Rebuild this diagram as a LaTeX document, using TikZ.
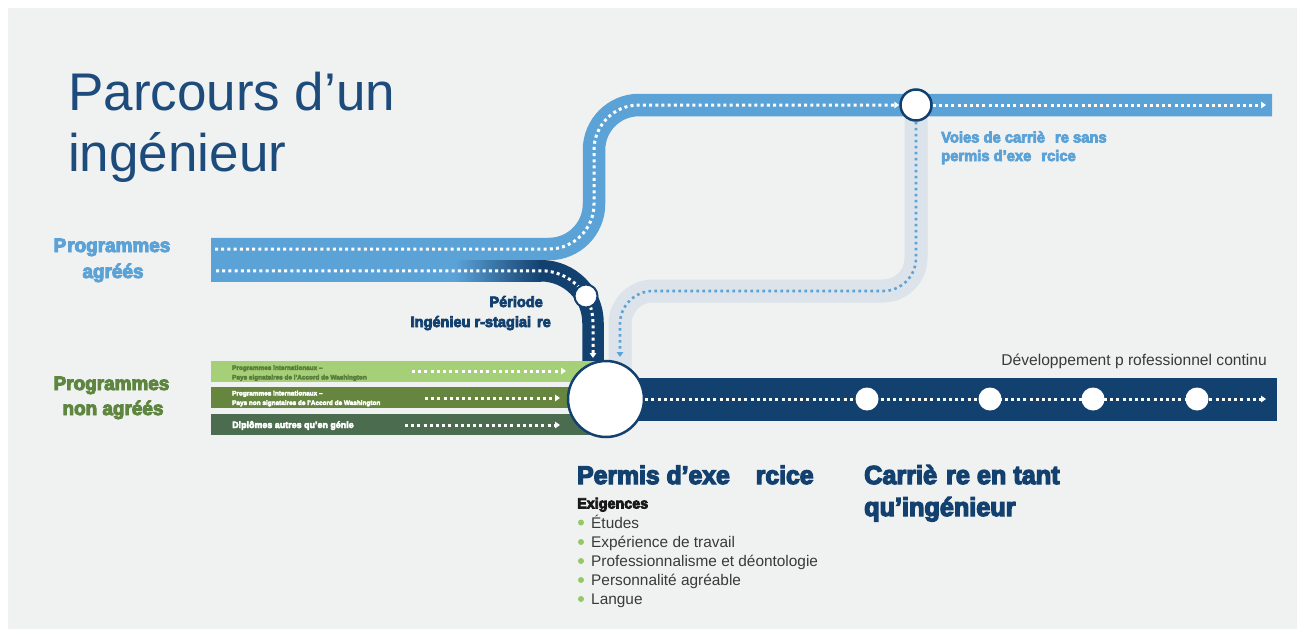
\documentclass[tikz,border=0pt]{standalone}
\usepackage{fontspec}
\setmainfont{Liberation Sans}
\newfontfamily\heavy[FakeStretch=0.97,BoldFeatures={FakeBold=5}]{Liberation Sans}
\newcommand\hv{\heavy\bfseries}
\usetikzlibrary{arrows.meta}

\definecolor{panel}{HTML}{F0F1F1}
\definecolor{navy}{HTML}{13416F}
\definecolor{titleblue}{HTML}{1D4B7B}
\definecolor{skyblue}{HTML}{5BA2D7}
\definecolor{paleband}{HTML}{DCE3EA}
\definecolor{greenA}{HTML}{A5D077}
\definecolor{greenB}{HTML}{668640}
\definecolor{greenC}{HTML}{4C6C4F}
\definecolor{greenlabel}{HTML}{5E8640}
\definecolor{greenink}{HTML}{5B7C3C}
\definecolor{bulletgreen}{HTML}{95C865}
\definecolor{bodytext}{HTML}{3A3A3A}

\tikzset{
  dots/.style={line width=3pt, dash pattern=on 3pt off 3.2pt},
  tipw/.style={-{Triangle[width=6.5pt,length=5pt]}},
  stop/.style={circle, draw=navy, fill=white, inner sep=0pt},
  milestone/.style={circle, fill=white, inner sep=0pt, minimum size=23pt},
  txt/.style={inner sep=0pt},
}

\begin{document}
\begin{tikzpicture}[x=1pt,y=-1pt]
\useasboundingbox (0,0) rectangle (1305,637);
\fill[white] (0,0) rectangle (1305,637);
\fill[panel] (8,8) rectangle (1297,629);

% named points of the routes
\coordinate (accA) at (211,249);
\coordinate (accAturn) at (594,249);
\coordinate (accAtop) at (594,105);
\coordinate (accAend) at (1272,105);
\coordinate (stageTurn) at (593,270.75);
\coordinate (altTurnA) at (916,291);
\coordinate (altTurnB) at (620,291);
\coordinate (devEnd) at (1266,399);

% pale route: careers without a licence, back to the licence
\draw[paleband, line width=23pt, rounded corners=33pt]
  (916,110) -- (altTurnA) -- (altTurnB) -- (620,385);

% accredited programmes: upper lane to careers without licence
\draw[skyblue, line width=22.5pt, rounded corners=45pt]
  (accA) -- (accAturn) -- (accAtop) -- (accAend);

% accredited programmes: lower lane, engineer-in-training period
\fill[skyblue] (211,260) rectangle (456,281.5);
\shade[left color=skyblue, right color=navy] (455,260) rectangle (541,281.5);
\draw[navy, line width=21.5pt, rounded corners=52pt]
  (540,270.75) -- (stageTurn) -- (593,385);

% non-accredited programmes
\fill[greenA] (211,361) rectangle (600,382);
\fill[greenB] (211,387) rectangle (600,408);
\fill[greenC] (211,414) rectangle (600,435);

% engineering career line
\fill[navy] (600,378) rectangle (1277,421);

% stops
\node[stop, line width=2.5pt, minimum size=76pt] (permit) at (606,399) {};
\node[stop, line width=2.5pt, minimum size=31pt] (topstop) at (916,105) {};

% dotted lanes
\draw[white, dots, tipw, rounded corners=45pt]
  (215,249) -- (accAturn) -- (accAtop) -- (topstop.west);
\draw[white, dots, tipw] (topstop.east) -- (1266,105);
\draw[white, dots, tipw, rounded corners=52pt]
  (216,270.75) -- (stageTurn) -- (593,358);
\draw[skyblue, line width=2.6pt, dash pattern=on 2.6pt off 3.4pt, tipw, rounded corners=33pt]
  (topstop.south) -- (altTurnA) -- (altTurnB) -- (620,357);
\draw[white, dots, tipw] (412,371) -- (566,371);
\draw[white, dots, tipw] (425,398) -- (560,398);
\draw[white, dots, tipw] (405,425) -- (560,425);
\draw[white, dots, tipw] (permit.east) -- (devEnd);

\node[stop, line width=2pt, minimum size=23pt] (junction) at (586,296) {};
\node[milestone] (m1) at (867,399) {};
\node[milestone] (m2) at (990,399) {};
\node[milestone] (m3) at (1093,399) {};
\node[milestone] (m4) at (1197,399) {};

% title
\node[txt, anchor=base west, text=titleblue, font=\fontsize{53}{60}\selectfont] (title1) at (68,110) {Parcours d’un};
\node[txt, anchor=base west, text=titleblue, font=\fontsize{53}{60}\selectfont] (title2) at (68,171) {ingénieur};

% left labels
\node[txt, anchor=base, text=skyblue, font=\hv\fontsize{19.5}{22}\selectfont] (acc1) at (112,252) {P\hspace{1pt}rogrammes};
\node[txt, anchor=base, text=skyblue, font=\hv\fontsize{19.5}{22}\selectfont] (acc2) at (113,278) {agréés};
\node[txt, anchor=base, text=greenlabel, font=\hv\fontsize{19.5}{22}\selectfont] (nacc1) at (111.5,390) {Programmes};
\node[txt, anchor=base, text=greenlabel, font=\hv\fontsize{19.5}{22}\selectfont] (nacc2) at (113,415) {non agréés};

% texts inside the green bands
\node[txt, anchor=base west, text=greenink, font=\hv\fontsize{6.6}{8}\selectfont] (gA1) at (232,370) {Programmes internationaux –};
\node[txt, anchor=base west, text=greenink, font=\hv\fontsize{6.6}{8}\selectfont] (gA2) at (232,379.5) {Pays signataires de l’Accord de Washington};
\node[txt, anchor=base west, text=white, font=\hv\fontsize{6.6}{8}\selectfont] (gB1) at (232,395.5) {Programmes internationaux –};
\node[txt, anchor=base west, text=white, font=\hv\fontsize{6.6}{8}\selectfont] (gB2) at (232,405) {Pays non signataires de l’Accord de Washington};
\node[txt, anchor=base west, text=white, font=\hv\fontsize{9.2}{11}\selectfont] (gC) at (232,428) {Diplômes autres qu’en génie};

% training period
\node[txt, anchor=base east, text=navy, font=\hv\fontsize{15}{18}\selectfont] (eit1) at (543,307) {Période};
\node[txt, anchor=base east, text=navy, font=\hv\fontsize{15}{18}\selectfont] (eit2) at (551,327) {Ingénieu\hspace{4pt}r-stagiai\hspace{6pt}re};

% careers without licence
\node[txt, anchor=base west, text=skyblue, font=\hv\fontsize{15.2}{18}\selectfont] (alt1) at (941,142.5) {Voies de carriè\hspace{10pt}re sans};
\node[txt, anchor=base west, text=skyblue, font=\hv\fontsize{15.2}{18}\selectfont] (alt2) at (941,161) {permis d’exe\hspace{10pt}rcice};

% continuing development
\node[txt, anchor=base east, text=bodytext, font=\fontsize{15.6}{18}\selectfont] (cpd) at (1267,365) {Développement p rofessionnel continu};

% licence and career headings
\node[txt, anchor=base west, text=navy, font=\hv\fontsize{25.5}{30}\selectfont] (lic) at (577,484) {Permis d’exe\hspace{26pt}rcice};
\node[txt, anchor=base west, text=navy, font=\hv\fontsize{26}{30}\selectfont] (car1) at (864,484) {Carriè\hspace{9pt}re en tant};
\node[txt, anchor=base west, text=navy, font=\hv\fontsize{26}{30}\selectfont] (car2) at (864,516) {qu’ingénieur};

% requirements
\node[txt, anchor=base west, text=black!90, font=\hv\fontsize{14.8}{17}\selectfont] (req) at (577,508.5) {Exigences};
\foreach \y/\t [count=\i] in {528/Études, 547.5/Expérience de travail, 566.5/Professionnalisme et déontologie, 585.5/Personnalité agréable, 604.5/Langue}{
  \fill[bulletgreen] (581,\y-5.5) circle (3pt);
  \node[txt, anchor=base west, text=bodytext, font=\fontsize{15.4}{18}\selectfont] (item\i) at (591,\y) {\t};
}
\end{tikzpicture}
\end{document}
